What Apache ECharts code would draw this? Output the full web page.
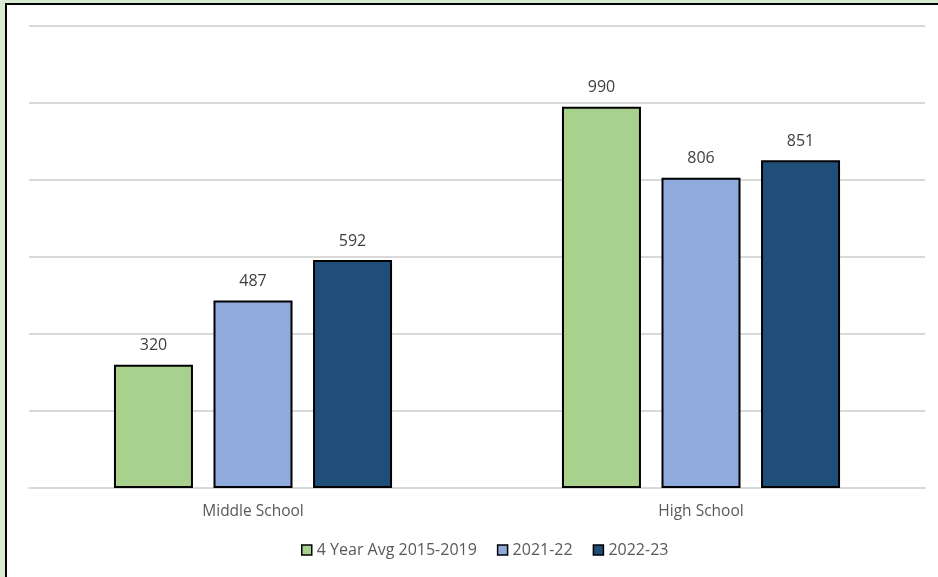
<!DOCTYPE html>
<html>
<head>
<meta charset="utf-8">
<script src="https://cdn.jsdelivr.net/npm/echarts@6/dist/echarts.min.js"></script>
<style>
html, body { margin: 0; padding: 0; background: #d9ead3; overflow: hidden; }
#frame { position: absolute; left: 5px; top: 3px; width: 960px; height: 600px; border-left: 2px solid #000; border-top: 2px solid #000; background: #fff; }
#main { position: absolute; left: 0; top: 0; width: 938px; height: 577px; }
</style>
</head>
<body>
<div id="frame"></div>
<div id="main"></div>
<script>
var categories = ['Middle School', 'High School'];
var seriesNames = ['4 Year Avg 2015-2019', '2021-22', '2022-23'];
var avgValues = [320, 990];
var y2122Values = [487, 806];
var y2223Values = [592, 851];
var colors = ['#a9d18e', '#8faadc', '#1f4e79'];

var myChart = echarts.init(document.getElementById('main'));

function makeSeries(name, data, color) {
    return {
        name: name,
        type: 'bar',
        data: data,
        barWidth: 79,
        barGap: '26%',
        itemStyle: {
            color: color,
            borderColor: '#000',
            borderWidth: 2
        },
        label: {
            show: true,
            position: 'top',
            distance: 11,
            color: '#404040',
            fontSize: 16,
            fontFamily: 'Open Sans'
        }
    };
}

var option = {
    backgroundColor: 'transparent',
    animation: false,
    grid: {
        left: 29,
        right: 13,
        top: 26,
        bottom: 89
    },
    legend: {
        bottom: 14,
        left: 296,
        itemWidth: 10,
        itemHeight: 10,
        itemGap: 20,
        icon: 'rect',
        textStyle: {
            color: '#595959',
            fontSize: 16,
            fontFamily: 'Open Sans'
        },
        itemStyle: {
            borderColor: '#000',
            borderWidth: 1.5
        }
    },
    xAxis: {
        type: 'category',
        data: categories,
        axisTick: { show: false },
        axisLine: { lineStyle: { color: '#d9d9d9', width: 2 } },
        axisLabel: {
            color: '#595959',
            fontSize: 15.5,
            margin: 16,
            fontFamily: 'Open Sans'
        }
    },
    yAxis: {
        type: 'value',
        min: 0,
        max: 1200,
        interval: 200,
        axisLabel: { show: false },
        axisLine: { show: false },
        axisTick: { show: false },
        splitLine: { lineStyle: { color: '#d9d9d9', width: 2 } }
    },
    series: [
        makeSeries(seriesNames[0], avgValues, colors[0]),
        makeSeries(seriesNames[1], y2122Values, colors[1]),
        makeSeries(seriesNames[2], y2223Values, colors[2])
    ]
};

myChart.setOption(option);
</script>
</body>
</html>
